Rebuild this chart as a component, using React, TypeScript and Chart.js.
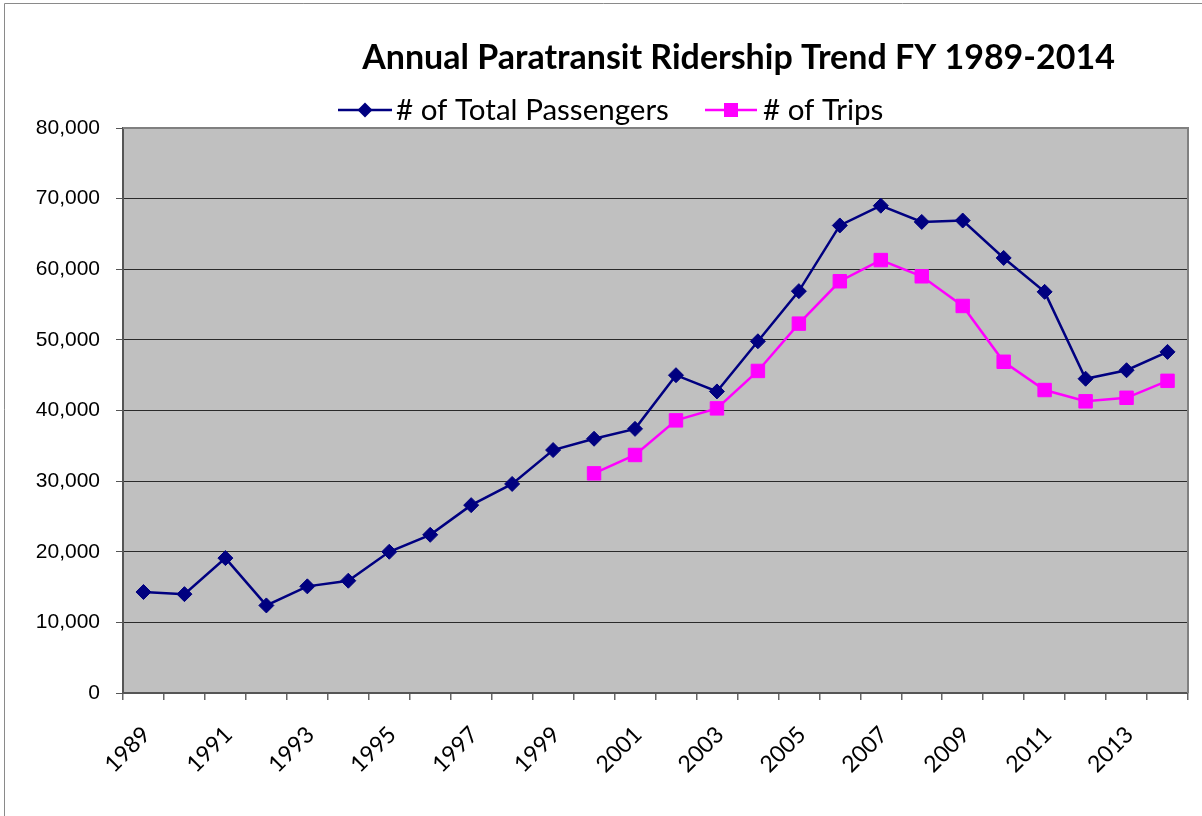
import React, { useEffect, useRef } from "react";
import { Chart, registerables } from "chart.js";

Chart.register(...registerables);

const years = [
  "1989", "1990", "1991", "1992", "1993", "1994", "1995", "1996", "1997", "1998",
  "1999", "2000", "2001", "2002", "2003", "2004", "2005", "2006", "2007", "2008",
  "2009", "2010", "2011", "2012", "2013", "2014",
];

const totalPassengers = [
  14300, 14000, 19100, 12400, 15100, 15900, 20000, 22400, 26600, 29600,
  34400, 36000, 37400, 45000, 42700, 49800, 56900, 66200, 69000, 66700,
  66900, 61600, 56800, 44500, 45700, 48300,
];

const trips = [
  null, null, null, null, null, null, null, null, null, null,
  null, 31100, 33700, 38600, 40300, 45600, 52300, 58300, 61300, 59000,
  54800, 46900, 42900, 41300, 41800, 44200,
];

const yTicks = [0, 10000, 20000, 30000, 40000, 50000, 60000, 70000, 80000];

const chartTitle = "Annual Paratransit Ridership Trend FY 1989-2014";
const seriesNames = ["# of Total Passengers", "# of Trips"];

const NAVY = "#000080";
const MAGENTA = "#FF00FF";

function fitSize(ctx: CanvasRenderingContext2D, text: string, family: string, weight: string, target: number) {
  ctx.font = `${weight} 100px ${family}`;
  const w = ctx.measureText(text).width;
  return (100 * target) / w;
}

const decorPlugin = {
  id: "decor",
  beforeDraw(chart: any) {
    const { ctx, chartArea } = chart;
    ctx.save();
    ctx.fillStyle = "#ffffff";
    ctx.fillRect(0, 0, chart.width, chart.height);
    ctx.strokeStyle = "#8a8a8a";
    ctx.lineWidth = 1;
    ctx.beginPath();
    ctx.moveTo(4.5, chart.height);
    ctx.lineTo(4.5, 3.5);
    ctx.lineTo(chart.width, 3.5);
    ctx.stroke();
    ctx.fillStyle = "#C0C0C0";
    ctx.fillRect(chartArea.left, chartArea.top, chartArea.right - chartArea.left, chartArea.bottom - chartArea.top);
    ctx.restore();
  },
  afterDatasetsDraw(chart: any) {
    const { ctx, chartArea } = chart;
    ctx.save();
    ctx.strokeStyle = "#808080";
    ctx.lineWidth = 2;
    ctx.beginPath();
    ctx.moveTo(chartArea.left, chartArea.top);
    ctx.lineTo(chartArea.right, chartArea.top);
    ctx.lineTo(chartArea.right, chartArea.bottom);
    ctx.stroke();
    ctx.restore();
  },
  afterDraw(chart: any) {
    const { ctx } = chart;
    ctx.save();
    const tSize = fitSize(ctx, chartTitle, "Lato", "bold", 753);
    ctx.font = `bold ${tSize}px Lato`;
    ctx.fillStyle = "#000";
    ctx.textAlign = "center";
    ctx.textBaseline = "middle";
    ctx.fillText(chartTitle, 738.5, 58);

    const lSize = fitSize(ctx, seriesNames[0], "Lato", "normal", 273);
    ctx.font = `normal ${lSize}px Lato`;
    ctx.textAlign = "left";
    const ly = 110;
    const items = [
      { x0: 338, x1: 392, mx: 365, tx: 396, color: NAVY, shape: "diamond", label: chart.data.datasets[0].label },
      { x0: 705, x1: 757, mx: 731, tx: 763, color: MAGENTA, shape: "square", label: chart.data.datasets[1].label },
    ];
    for (const it of items) {
      ctx.strokeStyle = it.color;
      ctx.lineWidth = 2.5;
      ctx.beginPath();
      ctx.moveTo(it.x0, ly);
      ctx.lineTo(it.x1, ly);
      ctx.stroke();
      ctx.fillStyle = it.color;
      ctx.beginPath();
      if (it.shape === "diamond") {
        ctx.moveTo(it.mx, ly - 7.5);
        ctx.lineTo(it.mx + 7.5, ly);
        ctx.lineTo(it.mx, ly + 7.5);
        ctx.lineTo(it.mx - 7.5, ly);
        ctx.closePath();
      } else {
        ctx.rect(it.mx - 7, ly - 7, 14, 14);
      }
      ctx.fill();
      ctx.fillStyle = "#000";
      ctx.fillText(it.label, it.tx, ly);
    }
    ctx.restore();
  },
};

export default function App() {
  const ref = useRef<HTMLCanvasElement | null>(null);

  useEffect(() => {
    if (!ref.current) return;
    const chart = new Chart(ref.current, {
      type: "line",
      data: {
        labels: years,
        datasets: [
          {
            label: seriesNames[0],
            data: totalPassengers,
            borderColor: NAVY,
            backgroundColor: NAVY,
            borderWidth: 2.5,
            pointStyle: "rectRot",
            pointRadius: 7.5,
            pointBorderWidth: 1,
            pointBorderColor: NAVY,
            pointBackgroundColor: NAVY,
            tension: 0,
            spanGaps: false,
          },
          {
            label: seriesNames[1],
            data: trips,
            borderColor: MAGENTA,
            backgroundColor: MAGENTA,
            borderWidth: 2.5,
            pointStyle: "rect",
            pointRadius: 9.5,
            pointBorderWidth: 1,
            pointBorderColor: MAGENTA,
            pointBackgroundColor: MAGENTA,
            tension: 0,
            spanGaps: false,
          },
        ],
      },
      options: {
        animation: false,
        responsive: false,
        maintainAspectRatio: false,
        layout: { padding: { top: 128, right: 14, left: 0, bottom: 0 } },
        plugins: {
          legend: { display: false },
          title: { display: false },
          tooltip: { enabled: false },
        },
        scales: {
          x: {
            type: "category",
            offset: true,
            afterFit: (s: any) => {
              s.height = 123;
              s.paddingLeft = 0;
              s.paddingRight = 0;
            },
            grid: {
              offset: true,
              drawOnChartArea: false,
              drawTicks: true,
              tickLength: 7,
              color: "#666666",
              lineWidth: 1.5,
            },
            border: { display: true, color: "#555555", width: 2 },
            ticks: {
              autoSkip: false,
              maxRotation: 45,
              minRotation: 45,
              padding: 21,
              labelOffset: 3,
              color: "#000",
              font: { family: "Lato", size: 23 },
              callback: (_v: any, i: number) => (i % 2 === 0 ? years[i] : ""),
            },
          },
          y: {
            min: 0,
            max: 80000,
            afterFit: (s: any) => {
              s.width = 123;
            },
            afterBuildTicks: (s: any) => {
              s.ticks = yTicks.map((v) => ({ value: v }));
            },
            grid: {
              color: "#2a2a2a",
              lineWidth: 1,
              drawTicks: true,
              tickLength: 7,
              tickColor: "#555555",
            },
            border: { display: true, color: "#555555", width: 2 },
            ticks: {
              padding: 16,
              color: "#000",
              font: { family: "Liberation Sans", size: 21 },
              callback: (v: any) => Number(v).toLocaleString("en-US"),
            },
          },
        },
      },
      plugins: [decorPlugin],
    });
    return () => chart.destroy();
  }, []);

  return (
    <div style={{ position: "fixed", left: 0, top: 0, width: 1202, height: 816, overflow: "hidden", background: "#fff" }}>
      <canvas ref={ref} width={1202} height={816} style={{ display: "block", width: 1202, height: 816 }} />
    </div>
  );
}
